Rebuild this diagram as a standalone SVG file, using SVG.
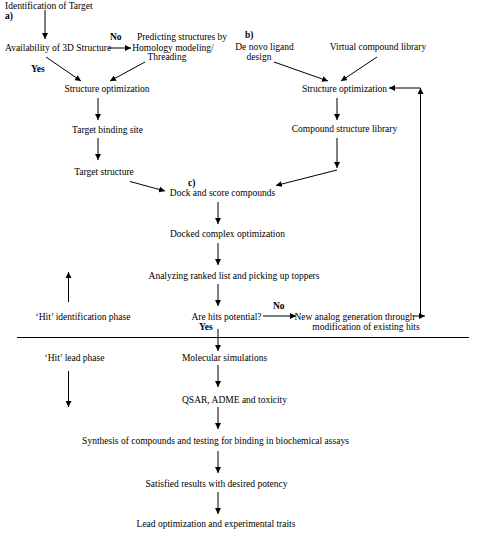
<svg xmlns="http://www.w3.org/2000/svg" width="483" height="536" viewBox="0 0 483 536">
<defs>
<marker id="ah" markerUnits="userSpaceOnUse" markerWidth="7" markerHeight="6" refX="6" refY="3" orient="auto">
<path d="M0,0 L6,3 L0,6 Z" fill="#000"/>
</marker>
<style>
text{font-family:"Liberation Serif","Times New Roman",serif;font-size:9.5px;fill:#000}
.m{text-anchor:middle}
.b{font-weight:bold}
.c{fill:none;stroke:#000;stroke-width:1}
.a{marker-end:url(#ah)}
</style>
</defs>
<rect width="483" height="536" fill="#fff"/>
<g id="connectors">
<path class="c a" d="M45,10 V39"/>
<path class="c a" d="M109,48 H131"/>
<path class="c a" d="M46,57 L81,81"/>
<path class="c a" d="M145,62 L110,81"/>
<path class="c a" d="M98,98 V120"/>
<path class="c a" d="M98,138 V160"/>
<path class="c a" d="M130,181.5 L165,191"/>
<path class="c a" d="M274,62 L328,81"/>
<path class="c a" d="M377,57 L341,81"/>
<path class="c a" d="M337,98 V120"/>
<path class="c a" d="M337,138 V168"/>
<path class="c a" d="M337,170 L276,185.5"/>
<path class="c a" d="M218,202 V224"/>
<path class="c a" d="M218,243 V265"/>
<path class="c a" d="M218,284 V306"/>
<path class="c a" d="M263,316 H296"/>
<path class="c a" d="M413,316 H425"/>
<path class="c a" d="M420.5,316 V88"/>
<path class="c a" d="M420.5,88 H389"/>
<path class="c a" d="M218,329 V351"/>
<path class="c" d="M17,337.5 H469"/>
<path class="c a" d="M68.5,302 V272"/>
<path class="c a" d="M68.5,371 V407"/>
<path class="c a" d="M218,365 V387"/>
<path class="c a" d="M218,407 V429"/>
<path class="c a" d="M218,451 V473"/>
<path class="c a" d="M218,492 V514"/>
</g>
<g id="n-identification"><text x="5" y="8.5">Identification of Target</text></g>
<g id="label-a"><text class="b" x="5" y="18.5">a)</text></g>
<g id="n-availability"><text x="5" y="50.5">Availability of 3D Structure</text></g>
<g id="label-no1"><text class="b" x="110" y="40">No</text></g>
<g id="n-predicting">
<text class="m" x="182" y="40">Predicting structures by</text>
<text class="m" x="173" y="50.5">Homology modeling/</text>
<text class="m" x="167" y="60">Threading</text>
</g>
<g id="label-yes1"><text class="b" x="31" y="71.5">Yes</text></g>
<g id="n-structopt-a"><text class="m" x="107" y="91.5">Structure optimization</text></g>
<g id="n-binding"><text class="m" x="107.5" y="132.5">Target binding site</text></g>
<g id="n-target-structure"><text class="m" x="104" y="174.5">Target structure</text></g>
<g id="label-b"><text class="b" x="245" y="37.5">b)</text></g>
<g id="n-denovo">
<text class="m" x="264.5" y="50">De novo ligand</text>
<text class="m" x="259" y="60">design</text>
</g>
<g id="n-virtual"><text class="m" x="378" y="50">Virtual compound library</text></g>
<g id="n-structopt-b"><text class="m" x="344.5" y="91.5">Structure optimization</text></g>
<g id="n-compound-lib"><text class="m" x="344.5" y="132">Compound structure library</text></g>
<g id="label-c"><text class="b" x="188" y="185.5">c)</text></g>
<g id="n-dock"><text class="m" x="222.5" y="196">Dock and score compounds</text></g>
<g id="n-docked"><text class="m" x="227.5" y="237">Docked complex optimization</text></g>
<g id="n-analyzing"><text class="m" x="234" y="279">Analyzing ranked list and picking up toppers</text></g>
<g id="n-arehits"><text class="m" x="226.5" y="320">Are hits potential?</text></g>
<g id="label-no2"><text class="b" x="273" y="309">No</text></g>
<g id="n-newanalog">
<text class="m" x="354.5" y="320">New analog generation through</text>
<text class="m" x="366" y="330">modification of existing hits</text>
</g>
<g id="label-yes2"><text class="b" x="199" y="330">Yes</text></g>
<g id="n-hit-id-phase"><text class="m" x="83" y="320">‘Hit’ identification phase</text></g>
<g id="n-hit-lead-phase"><text class="m" x="74.5" y="360.5">‘Hit’ lead phase</text></g>
<g id="n-molecular"><text class="m" x="224.5" y="360.5">Molecular simulations</text></g>
<g id="n-qsar"><text class="m" x="234.5" y="403">QSAR, ADME and toxicity</text></g>
<g id="n-synthesis"><text class="m" x="215.5" y="444">Synthesis of compounds and testing for binding in biochemical assays</text></g>
<g id="n-satisfied"><text class="m" x="216.5" y="486.5">Satisfied results with desired potency</text></g>
<g id="n-lead"><text class="m" x="216" y="526.5">Lead optimization and experimental traits</text></g>
</svg>
